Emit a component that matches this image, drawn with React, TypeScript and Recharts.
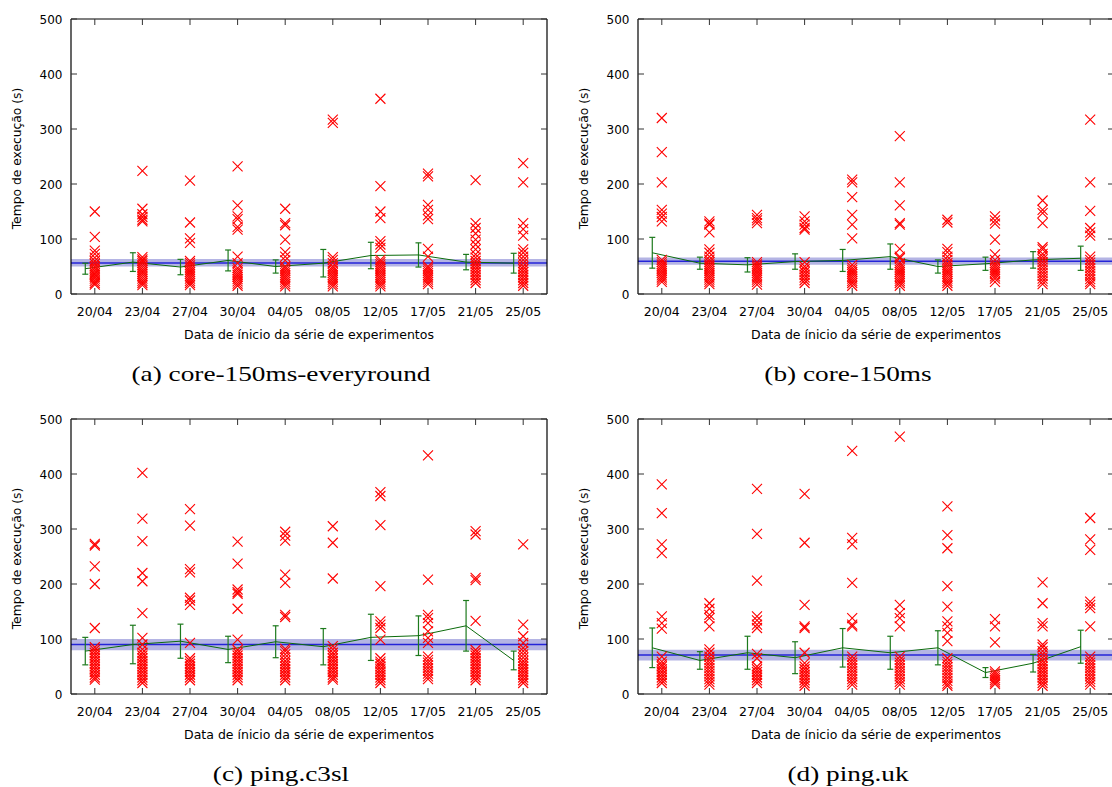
import React from 'react';
import {
    ComposedChart,
    XAxis,
    YAxis,
    Scatter,
    Line,
    ErrorBar,
    ReferenceArea,
    ReferenceLine,
} from 'recharts';

// categories
const dates = ['20/04', '23/04', '27/04', '30/04', '04/05', '08/05', '12/05', '17/05', '21/05', '25/05'];
const yTicks = [0, 100, 200, 300, 400, 500];

// (a) core-150ms-everyround
const aRuns = [
    [150, 104, 79, 73, 66, 60, 55, 50, 46, 42, 38, 35, 31, 28, 24, 20, 17],
    [224, 155, 145, 140, 135, 132, 67, 63, 60, 56, 52, 48, 44, 40, 36, 32, 28, 24, 20, 16],
    [206, 130, 101, 93, 60, 56, 52, 48, 44, 40, 36, 32, 28, 24, 20, 16],
    [232, 161, 141, 136, 122, 117, 68, 56, 47, 43, 39, 35, 31, 27, 23, 19, 15],
    [155, 129, 125, 99, 76, 68, 61, 50, 46, 42, 38, 34, 30, 26, 22, 18, 14],
    [317, 311, 67, 62, 56, 50, 46, 42, 38, 34, 30, 26, 22, 18, 14],
    [355, 196, 150, 138, 96, 90, 84, 62, 58, 54, 50, 46, 42, 38, 34, 30, 26, 22, 18, 14],
    [219, 214, 162, 153, 143, 136, 82, 68, 50, 46, 42, 38, 34, 30, 26, 22, 18],
    [207, 129, 120, 110, 99, 90, 81, 72, 66, 60, 55, 50, 45, 40, 35, 30, 25, 20],
    [238, 203, 129, 118, 106, 81, 75, 68, 62, 56, 50, 45, 40, 35, 30, 25, 20, 15],
];
const aMean = [46, 58, 49, 61, 50, 56, 70, 71, 58, 56];
const aErr = [10, 17, 14, 19, 12, 25, 24, 22, 14, 18];
const aBand = [50, 56.5, 63.5];

// (b) core-150ms
const bRuns = [
    [320, 258, 203, 153, 146, 140, 132, 62, 58, 54, 50, 46, 42, 38, 34, 30, 26, 22],
    [132, 128, 126, 112, 81, 75, 68, 62, 58, 54, 50, 46, 42, 38, 34, 30, 26, 22, 18],
    [144, 138, 134, 129, 58, 54, 50, 46, 42, 38, 34, 30, 26, 22, 17],
    [141, 132, 126, 120, 117, 58, 50, 45, 40, 35, 30, 25, 20],
    [208, 203, 176, 144, 126, 101, 53, 48, 44, 40, 36, 32, 28, 24, 20, 15],
    [287, 203, 161, 129, 126, 82, 68, 65, 56, 52, 48, 44, 40, 36, 32, 28, 24, 20, 15],
    [135, 130, 82, 76, 68, 62, 56, 52, 48, 44, 40, 36, 32, 28, 24, 20, 15],
    [141, 134, 128, 99, 72, 62, 56, 52, 48, 44, 40, 36, 32, 28, 22],
    [170, 153, 147, 129, 85, 81, 73, 68, 63, 58, 53, 48, 43, 38, 33, 28, 23, 18],
    [317, 203, 151, 120, 112, 106, 68, 62, 57, 52, 47, 42, 37, 32, 27, 22, 18],
];
const bMean = [75, 56, 53, 59, 61, 68, 50, 55, 62, 65];
const bErr = [28, 11, 13, 14, 20, 23, 12, 12, 15, 22];
const bBand = [53, 59.5, 66.5];

// (c) ping.c3sl
const cRuns = [
    [273, 270, 232, 200, 120, 85, 80, 75, 70, 65, 60, 55, 50, 45, 40, 35, 30, 26],
    [402, 319, 278, 220, 205, 147, 102, 90, 81, 75, 70, 65, 60, 55, 50, 45, 40, 35, 30, 25, 20],
    [336, 306, 227, 221, 175, 170, 162, 93, 65, 60, 55, 50, 45, 40, 35, 30, 25],
    [277, 237, 190, 185, 182, 155, 99, 80, 75, 70, 65, 60, 55, 50, 45, 40, 35, 30, 25],
    [295, 288, 279, 217, 202, 144, 140, 82, 78, 72, 66, 60, 55, 50, 45, 40, 35, 30, 25],
    [305, 275, 210, 87, 81, 75, 70, 65, 60, 55, 50, 45, 40, 35, 30, 26],
    [367, 360, 307, 196, 132, 126, 120, 99, 65, 59, 55, 50, 45, 40, 35, 30, 25, 20],
    [434, 208, 144, 138, 129, 114, 102, 93, 68, 62, 57, 52, 47, 42, 37, 32, 27],
    [296, 290, 211, 207, 133, 80, 75, 70, 65, 60, 55, 50, 45, 40, 35, 30, 25],
    [272, 126, 105, 93, 84, 78, 72, 66, 60, 55, 50, 45, 40, 35, 30, 25, 20],
];
const cMean = [78, 90, 96, 81, 95, 86, 103, 106, 124, 61];
const cErr = [25, 35, 31, 24, 29, 33, 42, 36, 46, 17];
const cBand = [79.5, 90, 100];

// (d) ping.uk
const dRuns = [
    [381, 329, 272, 256, 141, 129, 119, 68, 59, 54, 50, 45, 40, 35, 30, 25, 20],
    [165, 155, 144, 138, 123, 81, 75, 68, 62, 57, 52, 47, 42, 37, 32, 27, 22, 17],
    [373, 291, 206, 141, 134, 126, 120, 73, 65, 50, 45, 40, 35, 30, 25, 20],
    [364, 275, 162, 123, 120, 75, 56, 50, 45, 40, 35, 30, 25, 20, 15],
    [442, 284, 272, 202, 138, 126, 123, 68, 62, 57, 52, 47, 42, 37, 32, 27, 22, 17],
    [468, 162, 147, 138, 123, 68, 62, 57, 52, 47, 42, 37, 32, 27, 22, 17],
    [341, 289, 265, 196, 159, 132, 123, 111, 96, 65, 59, 54, 49, 44, 39, 34, 29, 24, 19, 15],
    [136, 123, 94, 41, 37, 33, 29, 25, 21, 18],
    [203, 165, 129, 123, 90, 85, 78, 72, 66, 60, 55, 50, 45, 40, 35, 30, 25, 20, 15],
    [320, 281, 262, 168, 162, 156, 123, 68, 62, 57, 52, 47, 42, 37, 32, 27, 22, 17],
];
const dMean = [84, 61, 75, 66, 84, 75, 84, 39, 56, 86];
const dErr = [36, 16, 30, 29, 35, 30, 31, 9, 16, 30];
const dBand = [61, 71, 80.5];

const FONT = '"DejaVu Sans", Verdana, sans-serif';

const XMark = ({ cx, cy }: { cx?: number; cy?: number }) => {
    if (cx == null || cy == null) return null;
    const s = 5;
    return (
        <path
            d={`M${cx - s},${cy - s}L${cx + s},${cy + s}M${cx - s},${cy + s}L${cx + s},${cy - s}`}
            stroke="#ff0000"
            strokeWidth={1.1}
            fill="none"
        />
    );
};

// gnuplot style ticks: pointing inwards
const BottomTick = ({ x, y, payload }: any) => (
    <g>
        <line x1={x} y1={y} x2={x} y2={y - 6} stroke="#333" />
        <text x={x} y={y + 21.5} textAnchor="middle" fontSize={12.5} fontFamily={FONT} fill="#000">
            {dates[payload.value]}
        </text>
    </g>
);
const TopTick = ({ x, y }: any) => <line x1={x} y1={y} x2={x} y2={y + 6} stroke="#333" />;
const LeftTick = ({ x, y, payload }: any) => (
    <g>
        <line x1={x} y1={y} x2={x + 6} y2={y} stroke="#333" />
        <text x={x - 8.5} y={y + 4.5} textAnchor="end" fontSize={12} fontFamily={FONT} fill="#000">
            {payload.value}
        </text>
    </g>
);
const RightTick = ({ x, y }: any) => <line x1={x} y1={y} x2={x - 6} y2={y} stroke="#333" />;

interface PanelProps {
    left: number;
    top: number;
    runs: number[][];
    mean: number[];
    err: number[];
    band: number[];
    caption: string;
}

function Panel({ left, top, runs, mean, err, band, caption }: PanelProps) {
    const points = runs.flatMap((vals, i) => vals.map((v) => ({ x: i, y: v })));
    const meanData = mean.map((m, i) => ({ x: i - 0.2, y: m, err: err[i] }));
    const xTicks = dates.map((_, i) => i);
    const axisLine = { stroke: '#000', strokeWidth: 1.2 };

    return (
        <div style={{ position: 'absolute', left, top, width: 560, height: 387 }}>
            <ComposedChart width={560} height={360} margin={{ top: 18, right: 12, bottom: 65, left: 70 }}>
                <XAxis
                    dataKey="x"
                    type="number"
                    domain={[-0.5, 9.5]}
                    ticks={xTicks}
                    interval={0}
                    allowDataOverflow
                    height={1}
                    tickSize={0}
                    tickMargin={0}
                    tick={<BottomTick />}
                    axisLine={axisLine}
                />
                <XAxis
                    xAxisId="top"
                    orientation="top"
                    dataKey="x"
                    type="number"
                    domain={[-0.5, 9.5]}
                    ticks={xTicks}
                    interval={0}
                    allowDataOverflow
                    height={1}
                    tickSize={0}
                    tickMargin={0}
                    tick={<TopTick />}
                    axisLine={axisLine}
                />
                <YAxis
                    dataKey="y"
                    type="number"
                    domain={[0, 500]}
                    ticks={yTicks}
                    interval={0}
                    allowDataOverflow
                    width={1}
                    tickSize={0}
                    tickMargin={0}
                    tick={<LeftTick />}
                    axisLine={axisLine}
                />
                <YAxis
                    yAxisId="right"
                    orientation="right"
                    dataKey="y"
                    type="number"
                    domain={[0, 500]}
                    ticks={yTicks}
                    interval={0}
                    allowDataOverflow
                    width={1}
                    tickSize={0}
                    tickMargin={0}
                    tick={<RightTick />}
                    axisLine={axisLine}
                />
                <ReferenceArea y1={band[0]} y2={band[2]} fill="#b4b4e4" fillOpacity={1} stroke="none" />
                <Scatter
                    data={points}
                    dataKey="y"
                    isAnimationActive={false}
                    shape={(p: any) => <XMark cx={p.cx} cy={p.cy} />}
                />
                <ReferenceLine y={band[1]} stroke="#2424d8" strokeWidth={1.4} />
                <Line
                    data={meanData}
                    dataKey="y"
                    type="linear"
                    stroke="#0b6b0b"
                    strokeWidth={1}
                    dot={false}
                    isAnimationActive={false}
                >
                    <ErrorBar dataKey="err" width={3} stroke="#1d7a1d" strokeWidth={1.2} direction="y" />
                </Line>
            </ComposedChart>
            <svg width={560} height={387} style={{ position: 'absolute', left: 0, top: 0, pointerEvents: 'none' }}>
                <text
                    transform="translate(17.2,158.5) rotate(-90)"
                    textAnchor="middle"
                    dominantBaseline="central"
                    fontSize={12.3}
                    fontFamily={FONT}
                    fill="#000"
                >
                    Tempo de execução (s)
                </text>
                <text x={309} y={339} textAnchor="middle" fontSize={12.5} fontFamily={FONT} fill="#000">
                    Data de ínicio da série de experimentos
                </text>
                <text
                    transform="translate(281,381) scale(1.24,1)"
                    textAnchor="middle"
                    fontSize={22}
                    fontFamily='"Liberation Serif", "Times New Roman", serif'
                    fill="#000"
                >
                    {caption}
                </text>
            </svg>
        </div>
    );
}

export default function App() {
    return (
        <div
            style={{
                position: 'absolute',
                left: 0,
                top: 0,
                width: 1112,
                height: 787,
                overflow: 'hidden',
                background: '#fff',
            }}
        >
            <Panel left={0} top={0} runs={aRuns} mean={aMean} err={aErr} band={aBand} caption="(a) core-150ms-everyround" />
            <Panel left={567} top={0} runs={bRuns} mean={bMean} err={bErr} band={bBand} caption="(b) core-150ms" />
            <Panel left={0} top={400} runs={cRuns} mean={cMean} err={cErr} band={cBand} caption="(c) ping.c3sl" />
            <Panel left={567} top={400} runs={dRuns} mean={dMean} err={dErr} band={dBand} caption="(d) ping.uk" />
        </div>
    );
}
